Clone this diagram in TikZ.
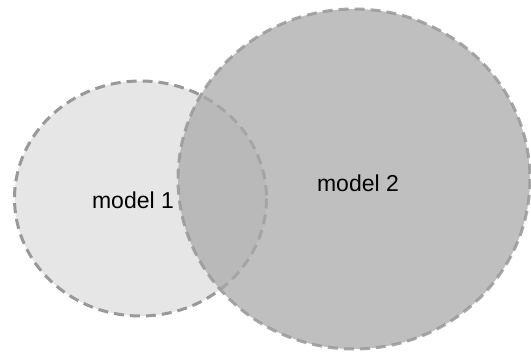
\documentclass[tikz,border=0pt]{standalone}
\usepackage{fontspec}
\setmainfont{Liberation Sans}
\begin{document}
\begin{tikzpicture}[x=1pt,y=-1pt,
  setline/.style={line width=3pt,dash pattern=on 10pt off 6pt},
  lbl/.style={font=\fontsize{23}{27}\selectfont,text=black,inner sep=0pt}]
\definecolor{fillA}{RGB}{230,230,230}
\definecolor{edgeA}{RGB}{153,153,153}
\definecolor{fillB}{RGB}{170,170,170}
\useasboundingbox[fill=white] (0,0) rectangle (531,352);
\draw[setline,fill=fillA,draw=edgeA] (140.5,198.5) ellipse [x radius=126,y radius=117.5];
\node[lbl] (m1) at (133,200) {model 1};
\draw[setline,fill=fillB,fill opacity=0.75,draw=edgeA,draw opacity=0.85] (354,179) ellipse [x radius=176,y radius=170];
\node[lbl] (m2) at (358,183) {model 2};
\end{tikzpicture}
\end{document}
